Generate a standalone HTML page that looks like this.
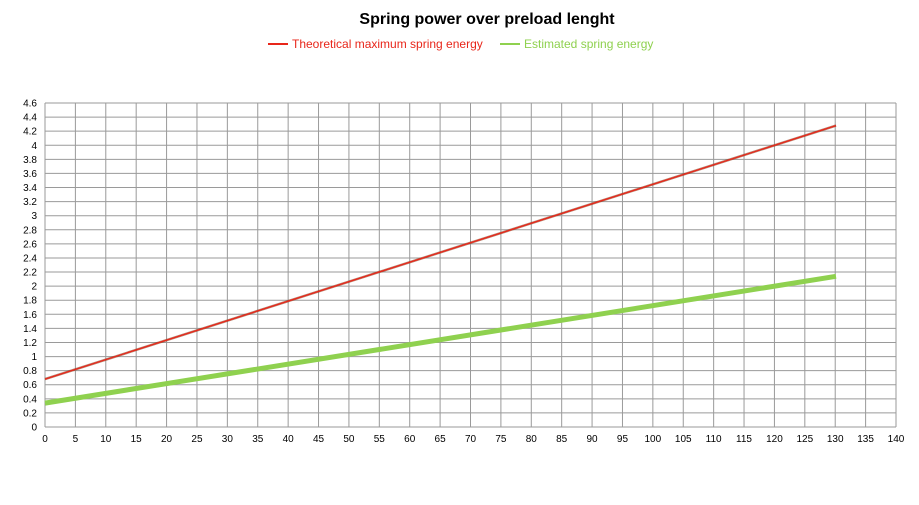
<!DOCTYPE html>
<html><head><style>body{margin:0;background:#fff}</style></head><body>
<svg width="919" height="500" xmlns="http://www.w3.org/2000/svg" font-family="Liberation Sans, sans-serif">
<text x="487" y="24" font-size="16" font-weight="bold" text-anchor="middle">Spring power over preload lenght</text>
<line x1="268" y1="44" x2="288" y2="44" stroke="#e8261a" stroke-width="2"/>
<text x="292" y="48" font-size="12" fill="#e8261a">Theoretical maximum spring energy</text>
<line x1="500" y1="44" x2="520" y2="44" stroke="#8fd14f" stroke-width="2"/>
<text x="524" y="48" font-size="12" fill="#8fd14f">Estimated spring energy</text>
<g id="grid" stroke="#9a9a9a" stroke-width="1"></g>
<g id="lab" font-size="10" fill="#000"></g>
<polyline points="45,379.1 836,125.6" stroke="#8b3a1a" stroke-width="2.5" fill="none" opacity="0.6"/>
<polyline points="45,379.1 836,125.6" stroke="#e8261a" stroke-width="1.3" fill="none"/>
<polyline points="45,403.1 836,276.3" stroke="#8fd14f" stroke-width="5" fill="none"/>
<script>
var g=document.getElementById('grid'),l=document.getElementById('lab'),ns='http://www.w3.org/2000/svg';
function el(p,t,a){var e=document.createElementNS(ns,t);for(var k in a)e.setAttribute(k,a[k]);p.appendChild(e);return e;}
for(var i=0;i<=28;i++){var x=45+i*851/28;el(g,'line',{x1:x,y1:103,x2:x,y2:427});var t=el(l,'text',{x:x,y:442,'text-anchor':'middle'});t.textContent=i*5;}
for(var j=0;j<=23;j++){var y=427-j*324/23;el(g,'line',{x1:45,y1:y,x2:896,y2:y});var t=el(l,'text',{x:37,y:y+3.5,'text-anchor':'end'});t.textContent=(Math.round(j*2)/10).toString();}
var s=document.querySelector('svg');var lines=s.querySelectorAll('polyline');lines.forEach(function(p){s.appendChild(p);});
</script>
</svg>
</body></html>
